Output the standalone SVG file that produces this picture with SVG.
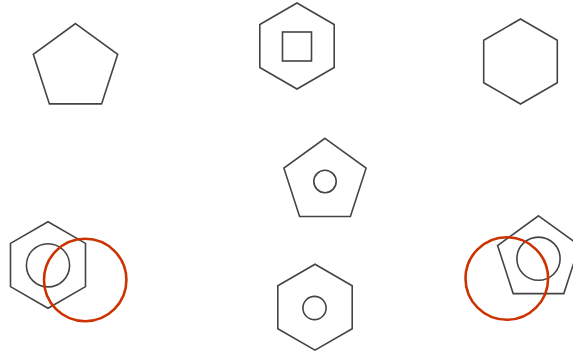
<svg xmlns="http://www.w3.org/2000/svg" width="573" height="355" viewBox="0 0 573 355">
<style>
.s{fill:none;stroke:#444;stroke-width:1.6;stroke-linejoin:miter}
.r{fill:none;stroke:#cc3300;stroke-width:2.6}
</style>
<rect width="573" height="355" fill="#fff"/>
<g id="pentagon-top-left"><polygon class="s" points="75.5,23.6 117.7,54.3 101.6,103.9 49.4,103.9 33.3,54.3"/></g>
<g id="hexagon-square"><polygon class="s" points="297,3 334.2,24.5 334.2,67.5 297,89 259.8,67.5 259.8,24.5"/><rect class="s" x="282.5" y="32" width="29" height="29"/></g>
<g id="hexagon-top-right"><polygon class="s" points="520.5,19 557.3,40.25 557.3,82.75 520.5,104 483.7,82.75 483.7,40.25"/></g>
<g id="pentagon-circle-center"><polygon class="s" points="325,138.3 366.1,168.15 350.4,216.45 299.6,216.45 283.9,168.15"/><circle class="s" cx="325" cy="181.5" r="11.2"/></g>
<g id="hexagon-bottom-left"><polygon class="s" points="48,221.7 85.5,243.35 85.5,286.65 48,308.3 10.5,286.65 10.5,243.35"/><circle class="s" cx="48" cy="265.3" r="21.6"/><circle class="r" cx="85.2" cy="280" r="41.2"/></g>
<g id="hexagon-circle-bottom"><polygon class="s" points="315,264.2 352.2,285.7 352.2,328.7 315,350.2 277.8,328.7 277.8,285.7"/><circle class="s" cx="314.5" cy="308" r="11.6"/></g>
<g id="pentagon-bottom-right"><polygon class="s" points="538.5,215.8 579.4,245.5 563.8,293.6 513.2,293.6 497.6,245.5"/><circle class="s" cx="538.5" cy="258.7" r="21.6"/><circle class="r" cx="506.8" cy="278.5" r="41.3"/></g>
<g id="connectors"></g>
</svg>
